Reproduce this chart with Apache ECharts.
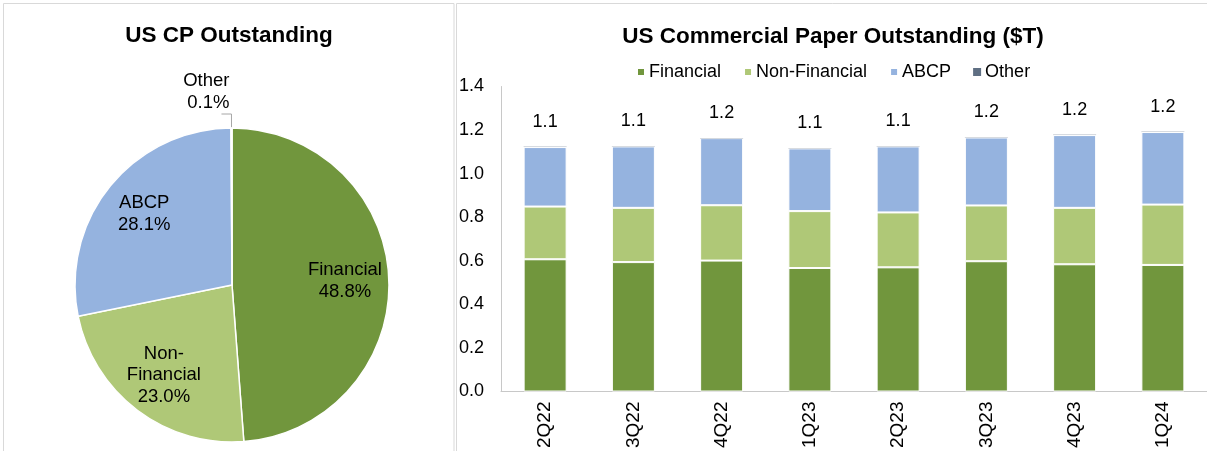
<!DOCTYPE html>
<html><head><meta charset="utf-8">
<script src="https://cdn.jsdelivr.net/npm/echarts@6/dist/echarts.min.js"></script>
<style>html,body{margin:0;padding:0;background:#fff}#c{width:1207px;height:451px}</style>
</head><body><div id="c"></div>
<script>
// Pie data (share of US CP outstanding, %)
const pieNames = ['Financial', 'Non-Financial', 'ABCP', 'Other'];
const pieValues = [48.8, 23.0, 28.1, 0.1];

// Bar data ($T)
const quarters = ['2Q22', '3Q22', '4Q22', '1Q23', '2Q23', '3Q23', '4Q23', '1Q24'];
const financial    = [0.607, 0.594, 0.601, 0.567, 0.570, 0.598, 0.584, 0.581];
const nonFinancial = [0.242, 0.249, 0.254, 0.261, 0.252, 0.256, 0.259, 0.277];
const abcp         = [0.273, 0.282, 0.308, 0.288, 0.303, 0.312, 0.334, 0.333];
const other        = [0.001, 0.001, 0.001, 0.001, 0.001, 0.001, 0.001, 0.001];
const yTicks = [0, 0.2, 0.4, 0.6, 0.8, 1.0, 1.2, 1.4];

const colors = ['#71963D', '#AFC877', '#95B3DF', '#5F6F83'];
const totals = quarters.map((q, i) => financial[i] + nonFinancial[i] + abcp[i] + other[i]);
const FONT = 'Liberation Sans, Arial, sans-serif';

const chart = echarts.init(document.getElementById('c'));
const pieData = pieNames.map((n, i) => ({
  name: n, value: pieValues[i], itemStyle: { color: colors[i] },
  label: { show: n === 'Other' }, labelLine: { show: n === 'Other' }
}));
const pieOverlay = pieNames.map((n, i) => ({
  name: n, value: pieValues[i], label: { show: n !== 'Other' }
}));

chart.setOption({
  animation: false,
  textStyle: { fontFamily: FONT },
  graphic: [
    { type: 'rect', shape: { x: 3.5, y: 3.5, width: 450.5, height: 470 }, style: { fill: 'none', stroke: '#d9d9d9', lineWidth: 1 } },
    { type: 'rect', shape: { x: 456.5, y: 3.5, width: 780, height: 470 }, style: { fill: 'none', stroke: '#d9d9d9', lineWidth: 1 } }
  ],
  title: [
    { text: 'US CP Outstanding', left: 224, top: 19, textAlign: 'center',
      textStyle: { fontSize: 22.5, fontWeight: 'bold', color: '#000', fontFamily: FONT } },
    { text: 'US Commercial Paper Outstanding ($T)', left: 828, top: 20, textAlign: 'center',
      textStyle: { fontSize: 22.5, fontWeight: 'bold', color: '#000', fontFamily: FONT } }
  ],
  legend: {
    data: pieNames, left: 631, top: 58, itemWidth: 8, itemHeight: 8, itemGap: 22, icon: 'rect',
    textStyle: { fontSize: 18, color: '#000', fontFamily: FONT, padding: [0, 0, 0, -1] }
  },
  grid: { left: 501, top: 86.5, width: 707, height: 306 },
  xAxis: {
    type: 'category', data: quarters,
    axisLine: { lineStyle: { color: '#c8c8c8' } }, axisTick: { show: false },
    axisLabel: { rotate: 90, fontSize: 19, color: '#000', margin: 10, fontFamily: FONT }
  },
  yAxis: {
    type: 'value', min: 0, max: 1.4, interval: 0.2, splitLine: { show: false },
    axisLine: { show: true, lineStyle: { color: '#c8c8c8' } }, axisTick: { show: false },
    axisLabel: { fontSize: 18, color: '#000', margin: 17, fontFamily: FONT,
      formatter: v => v.toFixed(1) }
  },
  series: [
    { name: 'Financial', type: 'bar', stack: 't', data: financial, barWidth: 43,
      itemStyle: { color: colors[0], borderColor: '#fff', borderWidth: 1 } },
    { name: 'Non-Financial', type: 'bar', stack: 't', data: nonFinancial, barWidth: 43,
      itemStyle: { color: colors[1], borderColor: '#fff', borderWidth: 1 } },
    { name: 'ABCP', type: 'bar', stack: 't', data: abcp, barWidth: 43,
      itemStyle: { color: colors[2], borderColor: '#fff', borderWidth: 1 } },
    { name: 'Other', type: 'bar', stack: 't', data: other, barWidth: 43,
      itemStyle: { color: colors[3] },
      label: { show: true, position: 'top', distance: 16, fontSize: 18, color: '#000', fontFamily: FONT,
        formatter: p => totals[p.dataIndex].toFixed(1) } },
    { type: 'pie', center: [232, 285], radius: [0, 157], startAngle: 90, clockwise: true,
      data: pieData, itemStyle: { borderColor: '#fff', borderWidth: 1.5 },
      label: { position: 'outside', fontSize: 18.5, color: '#000', lineHeight: 22, fontFamily: FONT,
        formatter: p => p.name + '\n' + p.value.toFixed(1) + '%' },
      labelLine: { length: 14, length2: 10, lineStyle: { color: '#a6a6a6', width: 1 } },
      labelLayout: p => ({ dx: 13, dy: -22 }),
      emphasis: { disabled: true } },
    { type: 'pie', center: [232, 285], radius: [0, 220], startAngle: 90, clockwise: true, silent: true,
      data: pieOverlay, itemStyle: { color: 'rgba(0,0,0,0)' }, z: 5,
      label: { position: 'inside', fontSize: 18.5, color: '#000', lineHeight: 21.5, fontFamily: FONT,
        formatter: p => (p.name === 'Non-Financial' ? 'Non-\nFinancial' : p.name) + '\n' + p.value.toFixed(1) + '%' },
      emphasis: { disabled: true } }
  ]
});
</script></body></html>
